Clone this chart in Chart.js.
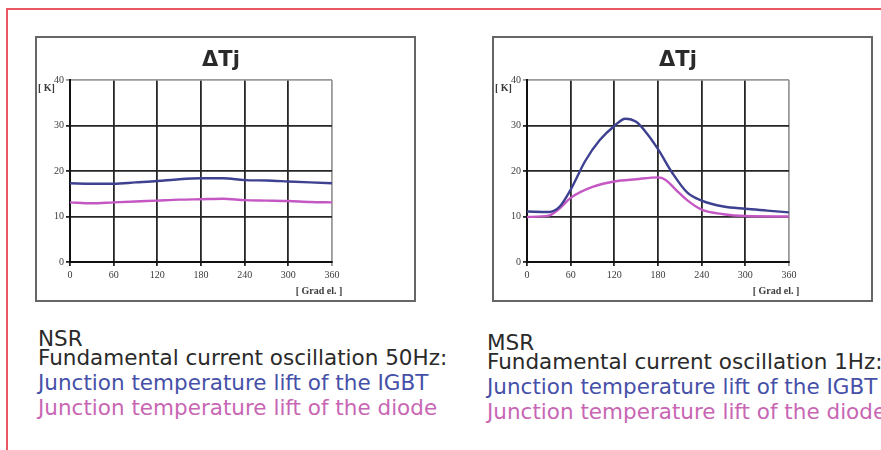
<!DOCTYPE html>
<html>
<head>
<meta charset="utf-8">
<script src="https://cdn.jsdelivr.net/npm/chart.js@4.4.1/dist/chart.umd.min.js"></script>
<style>
  html, body { margin: 0; padding: 0; background: #fff; }
  body { width: 881px; height: 450px; position: relative; overflow: hidden; }
  .frame {
    position: absolute; left: 6px; top: 8px; width: 900px; height: 500px;
    border-top: 2px solid #ea5862; border-left: 2px solid #ea5862;
  }
  .box {
    position: absolute; top: 36px; width: 381px; height: 266px;
    background: #fff; box-shadow: inset 0 0 0 2px #666;
  }
  .box canvas { position: absolute; left: 0; top: 0; }
  .caption {
    position: absolute; font-family: "DejaVu Sans", sans-serif;
    font-size: 21.5px; line-height: 25px; color: #2a2a2a; white-space: nowrap;
  }
  .caption .head { margin-bottom: -6px; }
  .igbt { color: #4650a8; }
  .diode { color: #c866b4; }
</style>
</head>
<body>
<div class="frame"></div>

<div class="box" style="left:35px"><canvas id="nsrChart" width="381" height="266"></canvas></div>
<div class="box" style="left:492px"><canvas id="msrChart" width="381" height="266"></canvas></div>

<div class="caption" style="left:38px; top:326px">
  <div class="head">NSR</div>
  <div>Fundamental current oscillation 50Hz:</div>
  <div class="igbt">Junction temperature lift of the IGBT</div>
  <div class="diode">Junction temperature lift of the diode</div>
</div>
<div class="caption" style="left:487px; top:330px">
  <div class="head">MSR</div>
  <div>Fundamental current oscillation 1Hz:</div>
  <div class="igbt">Junction temperature lift of the IGBT</div>
  <div class="diode">Junction temperature lift of the diode</div>
</div>

<script>
// NSR, 50Hz: angle in electrical degrees, lift in K
const nsrAngles = [0, 30, 60, 90, 120, 150, 180, 210, 240, 270, 300, 330, 360];
const nsrIgbt   = [17.3, 17.2, 17.2, 17.5, 17.8, 18.2, 18.4, 18.4, 18.0, 17.9, 17.7, 17.5, 17.3];
const nsrDiode  = [13.1, 12.9, 13.1, 13.3, 13.5, 13.7, 13.8, 13.9, 13.6, 13.5, 13.4, 13.2, 13.1];

// MSR, 1Hz
const msrIgbtAngles = [0, 30, 45, 60, 80, 100, 120, 135, 150, 165, 180, 200, 220, 240, 270, 300, 330, 360];
const msrIgbt       = [11.1, 11.0, 12.2, 15.9, 22.2, 26.8, 29.9, 31.5, 30.8, 28.2, 24.8, 19.5, 15.3, 13.5, 12.2, 11.7, 11.3, 10.9];
const msrDiodeAngles = [0, 30, 45, 60, 90, 120, 150, 180, 190, 205, 220, 240, 270, 300, 360];
const msrDiode       = [9.9, 10.2, 11.8, 14.1, 16.5, 17.7, 18.2, 18.6, 18.1, 15.8, 13.6, 11.5, 10.5, 10.1, 10.0];

const xTicks = [0, 60, 120, 180, 240, 300, 360];
const yTicks = [0, 10, 20, 30, 40];

const igbtColor = '#3e4190';
const diodeColor = '#c457c4';
const gridColor = '#262626';

function toPoints(xs, ys) {
  return xs.map((x, i) => ({ x: x, y: ys[i] }));
}

// title and unit labels drawn on top of the chart
const labelsPlugin = {
  id: 'labels',
  afterDraw(chart) {
    const ctx = chart.ctx;
    const area = chart.chartArea;
    ctx.save();
    ctx.fillStyle = '#2a2a2a';
    ctx.textAlign = 'center';
    ctx.textBaseline = 'middle';
    ctx.font = 'bold 21px "DejaVu Sans", sans-serif';
    ctx.fillText('ΔTj', 186, 25);

    ctx.fillStyle = '#3a3a3a';
    ctx.font = 'bold 10px "Liberation Serif", serif';
    ctx.textAlign = 'left';
    ctx.fillText('[ K]', 3, area.top + 8);
    ctx.textAlign = 'center';
    ctx.fillText('[ Grad el. ]', area.right - 13, area.bottom + 29);
    ctx.restore();
  }
};

function makeChart(id, igbtPts, diodePts) {
  return new Chart(document.getElementById(id), {
    type: 'line',
    data: {
      datasets: [
        { data: igbtPts, borderColor: igbtColor, borderWidth: 2.4, pointRadius: 0, cubicInterpolationMode: 'monotone' },
        { data: diodePts, borderColor: diodeColor, borderWidth: 2.4, pointRadius: 0, cubicInterpolationMode: 'monotone' }
      ]
    },
    options: {
      responsive: false,
      animation: false,
      events: [],
      layout: { padding: { top: 44, right: 84, left: 0, bottom: 0 } },
      plugins: { legend: { display: false }, tooltip: { enabled: false } },
      scales: {
        x: {
          type: 'linear', min: 0, max: 360,
          afterBuildTicks: s => { s.ticks = xTicks.map(v => ({ value: v })); },
          afterFit: s => { s.height = 40; },
          ticks: { color: '#3a3a3a', font: { family: 'Liberation Serif', size: 10 }, padding: 3, maxRotation: 0 },
          grid: {
            color: c => c.tick && c.tick.value === 360 ? '#9a9a9a' : gridColor,
            lineWidth: 1.8, tickLength: 4
          },
          border: { color: '#111', width: 2 }
        },
        y: {
          min: 0, max: 40,
          afterBuildTicks: s => { s.ticks = yTicks.map(v => ({ value: v })); },
          afterFit: s => { s.width = 35; },
          ticks: { color: '#3a3a3a', font: { family: 'Liberation Serif', size: 10 }, padding: 2 },
          grid: {
            color: c => c.tick && c.tick.value === 40 ? '#9a9a9a' : gridColor,
            lineWidth: 1.8, tickLength: 4
          },
          border: { color: '#111', width: 2 }
        }
      }
    },
    plugins: [labelsPlugin]
  });
}

makeChart('nsrChart', toPoints(nsrAngles, nsrIgbt), toPoints(nsrAngles, nsrDiode));
makeChart('msrChart', toPoints(msrIgbtAngles, msrIgbt), toPoints(msrDiodeAngles, msrDiode));
</script>
</body>
</html>
